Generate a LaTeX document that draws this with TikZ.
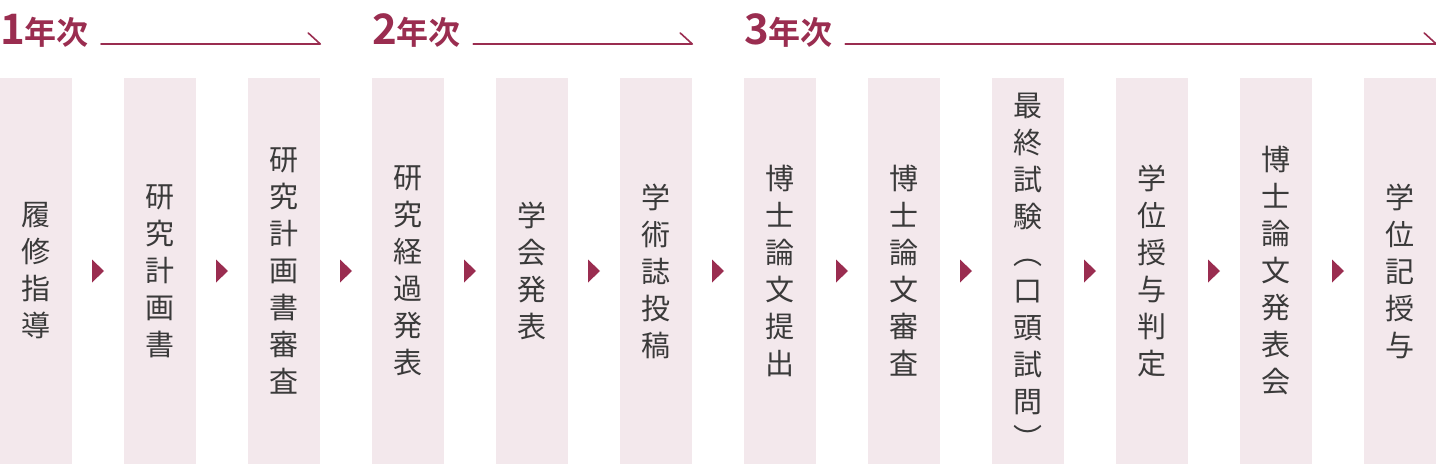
\documentclass[tikz,border=0pt]{standalone}
\usepackage{fontspec}
\setmainfont{Noto Sans CJK JP}[BoldFont={Noto Sans CJK JP Bold}]
\usetikzlibrary{calc}
\definecolor{wine}{HTML}{9A2D50}
\definecolor{blush}{HTML}{F3E8EC}
\definecolor{ink}{HTML}{3A3A3A}
\tikzset{flow/.style={x=0.75pt,y=-0.75pt},
  stage/.style={fill=blush,minimum width=54pt,minimum height=289.5pt,inner sep=0pt,align=center,
    text=ink,font=\fontsize{21.75}{27.75}\selectfont},
  yr/.style={inner sep=0pt,text=wine,font=\bfseries\fontsize{24}{24}\selectfont},
  yrline/.style={wine,line width=1.2pt,line cap=round,line join=round}}
\newcommand{\yrTag}[1]{{\fontsize{31.5}{31.5}\selectfont#1}年次}

\begin{document}
\begin{tikzpicture}[flow]
  \useasboundingbox (0,0) rectangle (1436,464);
  % stages
  \foreach \i/\t in {1/{履\\修\\指\\導},2/{研\\究\\計\\画\\書},3/{研\\究\\計\\画\\書\\審\\査},
    4/{研\\究\\経\\過\\発\\表},5/{学\\会\\発\\表},6/{学\\術\\誌\\投\\稿},7/{博\\士\\論\\文\\提\\出},
    8/{博\\士\\論\\文\\審\\査},9/{最\\終\\試\\験\\︵\\口\\頭\\試\\問\\︶},10/{学\\位\\授\\与\\判\\定},
    11/{博\\士\\論\\文\\発\\表\\会},12/{学\\位\\記\\授\\与}}
    \node[stage] (c\i) at ({36+124*(\i-1)},271) {\t};
  \foreach \i [count=\j from 2] in {1,...,11}
    \fill[wine] ($(c\i.east)!.5!(c\j.west)+(-6,-11.5)$) -- ++(12,11.5) -- ++(-12,11.5) -- cycle;
  % years
  \node[yr,anchor=base west] (y1) at (c1.west |- 0,44) {\yrTag{1}};
  \node[yr,anchor=base west] (y2) at (c4.west |- 0,44) {\yrTag{2}};
  \node[yr,anchor=base west] (y3) at (c7.west |- 0,44) {\yrTag{3}};
  \draw[yrline] ($(y1.base east)+(12,0)$) coordinate (s1) -- (c3.east |- s1) -- ++(-12,-11);
  \draw[yrline] ($(y2.base east)+(12,0)$) coordinate (s2) -- (c6.east |- s2) -- ++(-12,-11);
  \draw[yrline] ($(y3.base east)+(12,0)$) coordinate (s3) -- (c12.east |- s3) -- ++(-12,-11);
\end{tikzpicture}
\end{document}
